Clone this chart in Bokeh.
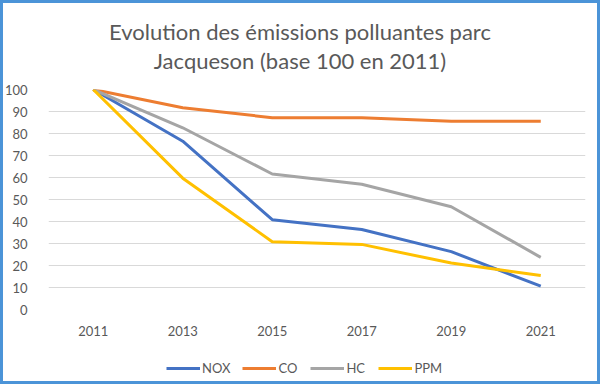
from bokeh.plotting import figure
from bokeh.models import Legend, LegendItem, Range1d, FactorRange, SingleIntervalTicker, Div
from bokeh.layouts import column
from bokeh.embed import file_html
from bokeh.resources import INLINE

title_lines = ["Evolution des émissions polluantes parc", "Jacqueson (base 100 en 2011)"]
years = ["2011", "2013", "2015", "2017", "2019", "2021"]
nox = [100, 76.5, 40.8, 36.4, 26.3, 10.6]
co = [100, 91.7, 87.2, 87.2, 85.6, 85.6]
hc = [100, 82.6, 61.6, 56.9, 46.7, 23.7]
ppm = [100, 59.7, 30.8, 29.6, 21.1, 15.5]
series = [("NOX", nox, "#4472C4"), ("CO", co, "#ED7D31"),
          ("HC", hc, "#A5A5A5"), ("PPM", ppm, "#FFC000")]

FONT = "Lato"
GREY = "#595959"

title = Div(text="<br>".join(title_lines), width=600, height=75, margin=0,
            styles={"font-family": FONT, "font-size": "22px", "line-height": "29px",
                    "color": GREY, "text-align": "center", "padding-top": "17px",
                    "box-sizing": "border-box", "width": "600px"})

p = figure(x_range=FactorRange(*years), y_range=Range1d(0, 100),
           width=600, height=275, output_backend="svg", toolbar_location=None,
           min_border_left=48, min_border_right=15, min_border_top=14, min_border_bottom=41)
p.title = None
p.border_fill_alpha = 0
p.background_fill_alpha = 0

for name, vals, col in series:
    p.line(years, vals, line_color=col, line_width=3)

p.outline_line_color = None
p.xgrid.grid_line_color = None
p.ygrid.grid_line_color = "#D9D9D9"
p.ygrid.grid_line_width = 1
p.yaxis.ticker = SingleIntervalTicker(interval=10)
for ax in (p.xaxis[0], p.yaxis[0]):
    ax.axis_line_color = None
    ax.major_tick_line_color = None
    ax.minor_tick_line_color = None
    ax.major_label_text_font = FONT
    ax.major_label_text_font_size = "13px"
    ax.major_label_text_color = GREY
p.yaxis.major_label_standoff = 15
p.xaxis.major_label_standoff = 10

# legend strip below the chart (its lines fall outside this strip's range,
# only the legend entries are visible)
lg = figure(x_range=FactorRange(*years), y_range=Range1d(1000, 1001), width=600, height=34,
            output_backend="svg", toolbar_location=None,
            min_border_left=0, min_border_right=0, min_border_top=4, min_border_bottom=0)
lg.axis.visible = False
lg.grid.visible = False
lg.outline_line_color = None
lg.border_fill_alpha = 0
lg.background_fill_alpha = 0
items = []
for name, vals, col in series:
    r = lg.line(years, vals, line_color=col, line_width=3)
    items.append(LegendItem(label=name, renderers=[r]))
legend = Legend(items=items, orientation="horizontal", location=(118, 8),
                border_line_color=None, background_fill_alpha=0,
                label_text_font=FONT, label_text_font_size="13px", label_text_color=GREY,
                glyph_width=34, glyph_height=14, label_height=14, label_standoff=2,
                spacing=12, margin=0, padding=0)
lg.add_layout(legend, "center")

layout = column(title, p, lg, spacing=0)
layout.styles = {"position": "absolute", "left": "0px", "top": "0px",
                 "outline": "3px solid #4B94D8", "outline-offset": "-3px",
                 "background": "white"}

open("out.html", "w").write(file_html(layout, INLINE))
